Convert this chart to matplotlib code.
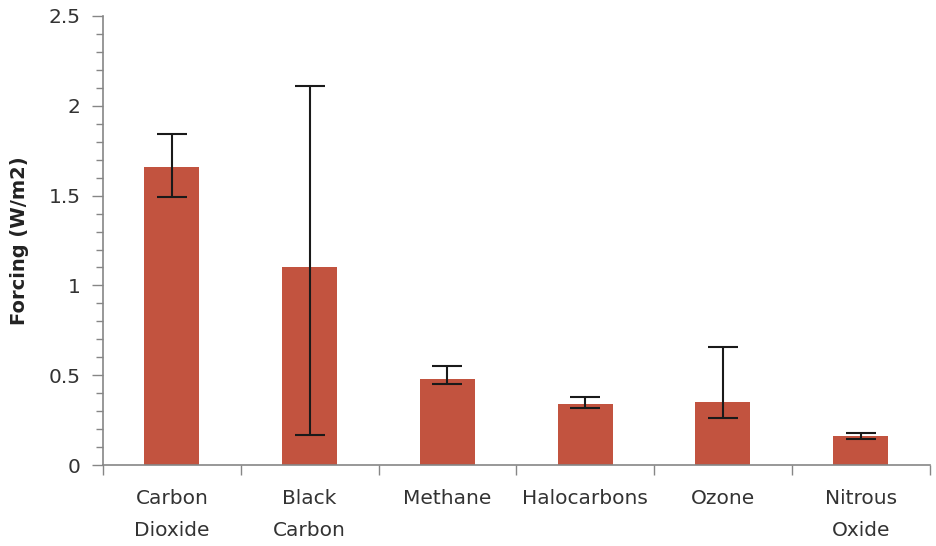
import matplotlib.pyplot as plt
from matplotlib.ticker import MultipleLocator, FixedLocator
import numpy as np

categories = ['Carbon\nDioxide', 'Black\nCarbon', 'Methane', 'Halocarbons', 'Ozone', 'Nitrous\nOxide']
forcing = [1.66, 1.10, 0.48, 0.34, 0.35, 0.16]
err_low = [1.49, 0.17, 0.45, 0.32, 0.26, 0.145]
err_high = [1.84, 2.11, 0.55, 0.38, 0.66, 0.18]

plt.rcParams['font.family'] = 'DejaVu Sans'

fig = plt.figure(figsize=(9.37, 5.46), dpi=100)
ax = fig.add_axes([0.110, 0.148, 0.882, 0.823])

x = np.arange(len(categories))
yerr = [np.array(forcing) - np.array(err_low), np.array(err_high) - np.array(forcing)]
ax.bar(x, forcing, width=0.4, color='#C2533F', zorder=2)
ax.errorbar(x, forcing, yerr=yerr, fmt='none', ecolor='#1a1a1a', elinewidth=1.5,
            capsize=11, capthick=1.5, zorder=3)

ax.set_xlim(-0.5, len(categories) - 0.5)
ax.set_ylim(0, 2.5)
ax.yaxis.set_minor_locator(MultipleLocator(0.1))
ax.set_yticks([0, 0.5, 1, 1.5, 2, 2.5])
ax.set_yticklabels(['0', '0.5', '1', '1.5', '2', '2.5'])

ax.set_xticks(x)
ax.set_xticklabels(categories, linespacing=1.9)
ax.xaxis.set_minor_locator(FixedLocator(np.arange(-0.5, len(categories), 1.0)))
ax.tick_params(axis='x', which='major', length=0, pad=17, labelsize=14.5, labelcolor='#333333')
ax.tick_params(axis='x', which='minor', length=7, color='#868686', width=1)
ax.tick_params(axis='y', which='major', length=8, color='#868686', width=1, labelsize=14.5,
               labelcolor='#333333', pad=8)
ax.tick_params(axis='y', which='minor', length=5, color='#868686', width=1)

for s in ['top', 'right']:
    ax.spines[s].set_visible(False)
for s in ['left', 'bottom']:
    ax.spines[s].set_color('#868686')
    ax.spines[s].set_linewidth(1.2)

ax.set_ylabel('Forcing (W/m2)', fontsize=14, fontweight='bold', color='#222222', labelpad=14)

fig.savefig('out.png', dpi=100)
